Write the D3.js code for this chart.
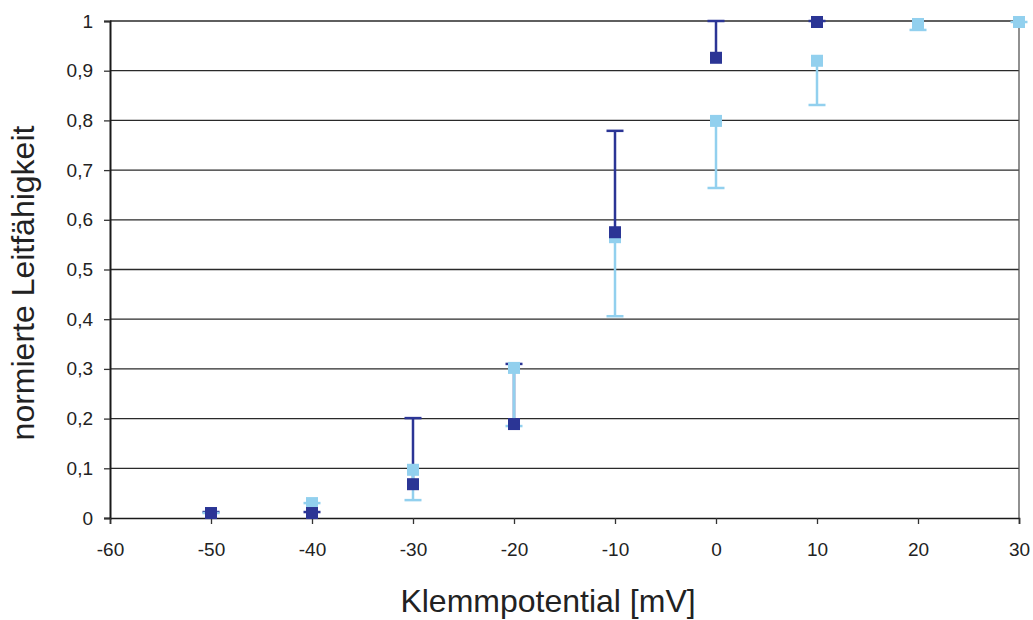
<!DOCTYPE html>
<html>
<head>
<meta charset="utf-8">
<script src="https://cdn.jsdelivr.net/npm/d3@7"></script>
<style>
  body { margin: 0; background: #fff; }
  svg { display: block; font-family: "Liberation Sans", Arial, sans-serif; }
</style>
</head>
<body>
<svg id="chart" width="1033" height="620"></svg>
<script>
// Clamp potential (mV) for each series
const darkX = [-50, -40, -30, -20, -10, 0, 10];
const darkY = [0.01, 0.01, 0.068, 0.189, 0.575, 0.926, 0.998];
const darkErrTop = [0.012, 0.012, 0.201, 0.31, 0.779, 1.0, 1.0];

const lightX = [-50, -40, -30, -20, -10, 0, 10, 20, 30];
const lightY = [0.01, 0.03, 0.097, 0.302, 0.565, 0.799, 0.92, 0.994, 0.998];
const lightErrBottom = [0.01, 0.03, 0.036, 0.185, 0.406, 0.664, 0.831, 0.982, 0.998];

const xTicks = [-60, -50, -40, -30, -20, -10, 0, 10, 20, 30];
const yTicks = [0, 0.1, 0.2, 0.3, 0.4, 0.5, 0.6, 0.7, 0.8, 0.9, 1];

const darkColor = "#2b3595";
const lightColor = "#92d0ee";

const svg = d3.select("#chart");
const plotLeft = 110, plotRight = 1019, plotTop = 21, plotBottom = 518;

const x = d3.scaleLinear().domain([-60, 30]).range([plotLeft, plotRight]);
const y = d3.scaleLinear().domain([0, 1]).range([plotBottom, plotTop]);

const fmt = v => (v === 0 || v === 1) ? String(v) : d3.format(".1f")(v).replace(".", ",");

// Horizontal gridlines
svg.append("g").selectAll("line").data(yTicks.filter(v => v > 0)).join("line")
  .attr("x1", plotLeft).attr("x2", plotRight)
  .attr("y1", d => y(d)).attr("y2", d => y(d))
  .attr("stroke", "#2a2a2a").attr("stroke-width", 1.3);

// Right border
svg.append("line").attr("x1", plotRight).attr("x2", plotRight)
  .attr("y1", plotTop).attr("y2", plotBottom)
  .attr("stroke", "#555").attr("stroke-width", 1.3);

// Y axis
const yAxis = svg.append("g").attr("transform", `translate(${plotLeft},0)`)
  .call(d3.axisLeft(y).tickValues(yTicks).tickFormat(fmt).tickSize(6).tickPadding(11));
yAxis.select(".domain").attr("stroke", "#1a1a1a").attr("stroke-width", 2);
yAxis.selectAll(".tick line").attr("stroke", "#333").attr("stroke-width", 1.3);
yAxis.selectAll("text").attr("font-size", 19).attr("fill", "#222")
  .attr("font-family", "Liberation Sans, Arial, sans-serif");

// X axis
const xAxis = svg.append("g").attr("transform", `translate(0,${plotBottom})`)
  .call(d3.axisBottom(x).tickValues(xTicks).tickFormat(d => d).tickSize(6).tickPadding(19));
xAxis.select(".domain").attr("stroke", "#1a1a1a").attr("stroke-width", 1.6);
xAxis.selectAll(".tick line").attr("stroke", "#333").attr("stroke-width", 1.3);
xAxis.selectAll("text").attr("font-size", 19).attr("fill", "#222")
  .attr("font-family", "Liberation Sans, Arial, sans-serif");

// Error bars
function errorBars(xs, ys, ends, color) {
  const g = svg.append("g");
  const data = xs.map((d, i) => ({ x: d, v: ys[i], e: ends[i] }));
  g.selectAll("line.stem").data(data).join("line").attr("class", "stem")
    .attr("x1", d => x(d.x)).attr("x2", d => x(d.x))
    .attr("y1", d => y(d.v)).attr("y2", d => y(d.e))
    .attr("stroke", color).attr("stroke-width", 2.5);
  g.selectAll("line.cap").data(data).join("line").attr("class", "cap")
    .attr("x1", d => x(d.x) - 8.5).attr("x2", d => x(d.x) + 8.5)
    .attr("y1", d => y(d.e)).attr("y2", d => y(d.e))
    .attr("stroke", color).attr("stroke-width", 2.5);
}

function markers(xs, ys, color) {
  svg.append("g").selectAll("rect").data(xs.map((d, i) => ({ x: d, v: ys[i] }))).join("rect")
    .attr("x", d => x(d.x) - 6).attr("y", d => y(d.v) - 6)
    .attr("width", 12).attr("height", 12)
    .attr("fill", color);
}

errorBars(darkX, darkY, darkErrTop, darkColor);
errorBars(lightX, lightY, lightErrBottom, lightColor);
markers(lightX, lightY, lightColor);
markers(darkX, darkY, darkColor);

// Axis titles
svg.append("text")
  .attr("x", 548).attr("y", 612)
  .attr("text-anchor", "middle").attr("font-size", 32).attr("fill", "#222")
  .text("Klemmpotential [mV]");

svg.append("text")
  .attr("transform", "translate(34,283) rotate(-90)")
  .attr("text-anchor", "middle").attr("font-size", 32).attr("fill", "#222")
  .text("normierte Leitfähigkeit");
</script>
</body>
</html>
